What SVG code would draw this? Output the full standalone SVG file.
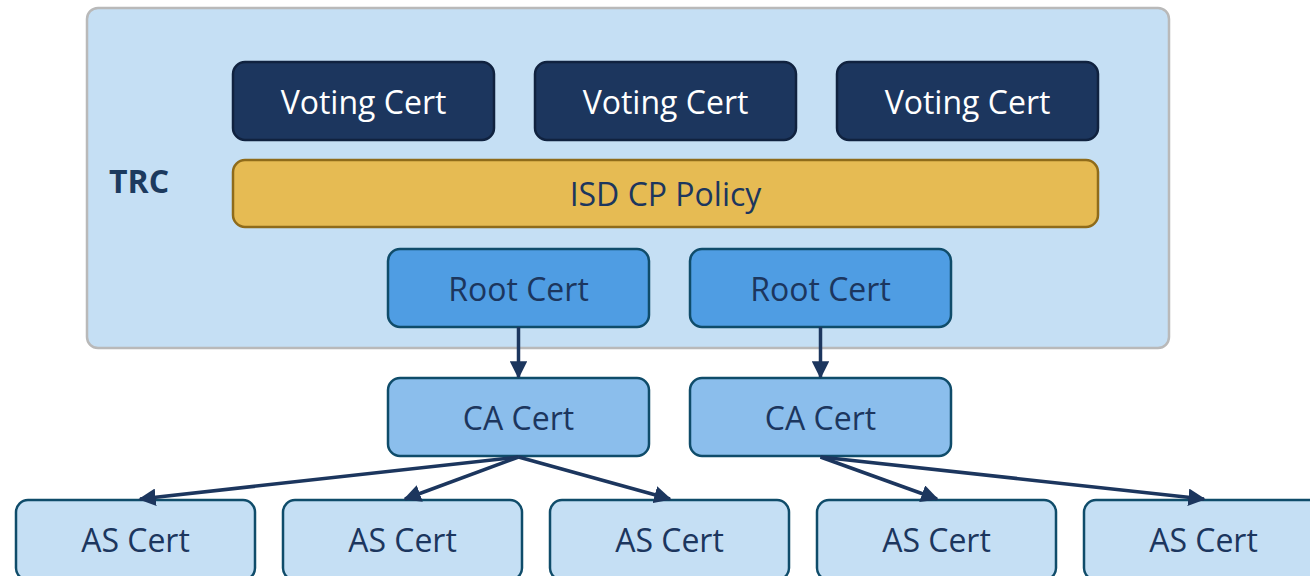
<svg xmlns="http://www.w3.org/2000/svg" width="1310" height="576" viewBox="0 0 1310 576">
  <style>
    .lbl { font-family: "Open Sans", "Liberation Sans", sans-serif; font-size: 32px; text-anchor: middle; dominant-baseline: central; fill: #1c365e; }
    .light { fill: #ffffff; }
    .vote { fill: #1c365e; stroke: #10223f; stroke-width: 2.5; }
    .policy { fill: #e6bb53; stroke: #8f6b1a; stroke-width: 2.5; }
    .root { fill: #4f9de3; stroke: #0f4c6a; stroke-width: 2.5; }
    .ca { fill: #8bbeec; stroke: #0f4c6a; stroke-width: 2.5; }
    .as { fill: #c5dff4; stroke: #0f4c6a; stroke-width: 2.5; }
    .edge { stroke: #1c365e; stroke-width: 3.5; fill: none; marker-end: url(#arrow); }
  </style>
  <defs>
    <marker id="arrow" viewBox="0 0 10 10" refX="9" refY="5" markerWidth="5" markerHeight="5" orient="auto" markerUnits="strokeWidth">
      <path d="M0,0 L10,5 L0,10 z" fill="#1c365e"/>
    </marker>
  </defs>

  <rect width="1310" height="576" fill="#ffffff"/>

  <!-- TRC container -->
  <g id="trc">
    <rect x="87" y="8" width="1082" height="340" rx="11" fill="#c5dff4" stroke="#b9b9b9" stroke-width="2.5"/>
    <text x="139" y="180" class="lbl" style="font-weight:bold;font-size:32px;fill:#1c3a5e">TRC</text>
  </g>

  <g id="voting1"><rect class="vote" x="233" y="62" width="261" height="78" rx="12"/><text class="lbl light" x="363.5" y="101">Voting Cert</text></g>
  <g id="voting2"><rect class="vote" x="535" y="62" width="261" height="78" rx="12"/><text class="lbl light" x="665.5" y="101">Voting Cert</text></g>
  <g id="voting3"><rect class="vote" x="837" y="62" width="261" height="78" rx="12"/><text class="lbl light" x="967.5" y="101">Voting Cert</text></g>

  <g id="policy"><rect class="policy" x="233" y="160" width="865" height="67" rx="12"/><text class="lbl" x="665.5" y="193">ISD CP Policy</text></g>

  <g id="root1"><rect class="root" x="388" y="249" width="261" height="78" rx="12"/><text class="lbl" x="518.5" y="288">Root Cert</text></g>
  <g id="root2"><rect class="root" x="690" y="249" width="261" height="78" rx="12"/><text class="lbl" x="820.5" y="288">Root Cert</text></g>

  <g id="ca1"><rect class="ca" x="388" y="378" width="261" height="78" rx="12"/><text class="lbl" x="518.5" y="417">CA Cert</text></g>
  <g id="ca2"><rect class="ca" x="690" y="378" width="261" height="78" rx="12"/><text class="lbl" x="820.5" y="417">CA Cert</text></g>

  <g id="as1"><rect class="as" x="16" y="500" width="239" height="80" rx="12"/><text class="lbl" x="135.5" y="539">AS Cert</text></g>
  <g id="as2"><rect class="as" x="283" y="500" width="239" height="80" rx="12"/><text class="lbl" x="402.5" y="539">AS Cert</text></g>
  <g id="as3"><rect class="as" x="550" y="500" width="239" height="80" rx="12"/><text class="lbl" x="669.5" y="539">AS Cert</text></g>
  <g id="as4"><rect class="as" x="817" y="500" width="239" height="80" rx="12"/><text class="lbl" x="936.5" y="539">AS Cert</text></g>
  <g id="as5"><rect class="as" x="1084" y="500" width="239" height="80" rx="12"/><text class="lbl" x="1203.5" y="539">AS Cert</text></g>

  <!-- connectors -->
  <g id="connectors">
    <line class="edge" x1="518.5" y1="327" x2="518.5" y2="377"/>
    <line class="edge" x1="820.5" y1="327" x2="820.5" y2="377"/>
    <line class="edge" x1="518.5" y1="457" x2="140" y2="499"/>
    <line class="edge" x1="518.5" y1="457" x2="405" y2="499"/>
    <line class="edge" x1="518.5" y1="457" x2="670" y2="499"/>
    <line class="edge" x1="820.5" y1="457" x2="937" y2="499"/>
    <line class="edge" x1="820.5" y1="457" x2="1204" y2="499"/>
  </g>
</svg>
